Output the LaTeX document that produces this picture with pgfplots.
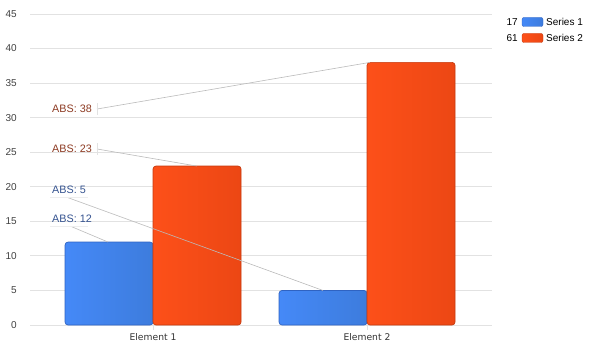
\documentclass[border=0pt]{standalone}
\usepackage{pgfplots}
\pgfplotsset{compat=1.18}
\usepackage{fontspec}
\setmainfont{Liberation Sans}
\newfontfamily\dejavu{DejaVu Sans}
\definecolor{bluel}{HTML}{4589F7}
\definecolor{bluer}{HTML}{3D7CDD}
\definecolor{blueb}{HTML}{2F63C2}
\definecolor{redl}{HTML}{FD5019}
\definecolor{redr}{HTML}{EC4714}
\definecolor{redb}{HTML}{C53A0E}
\definecolor{redtxt}{HTML}{8C3A22}
\definecolor{bluetxt}{HTML}{34528F}
\definecolor{gridc}{HTML}{E2E2E2}
\definecolor{leader}{HTML}{BBBBBB}
\pgfplotsset{
  bluebar/.style={ybar, bar width=88pt, bar shift=-44pt, draw=blueb, line width=0.7pt, left color=bluel, right color=bluer, rounded corners=3pt},
  redbar/.style={ybar, bar width=88pt, bar shift=44pt, draw=redb, line width=0.7pt, left color=redl, right color=redr, rounded corners=3pt},
}
\begin{document}
\begin{tikzpicture}[x=1pt,y=1pt]
\path (0,0) rectangle (592,351);
\begin{axis}[
  at={(30pt,26pt)}, anchor=south west,
  width=462pt, height=311pt, scale only axis,
  xmin=-0.575, xmax=1.584, ymin=0, ymax=45,
  xtick={0,1}, xticklabels={Element 1, Element 2},
  xtick pos=bottom,
  ytick={0,5,...,45},
  ymajorgrids, grid style={gridc, line width=0.8pt},
  axis line style={draw=none},
  tick align=outside, major tick length=5pt,
  xtick style={draw=gridc, line width=0.8pt},
  ytick style={draw=none},
  yticklabel style={font=\fontsize{10}{12}\selectfont, text=black!75, inner sep=0pt, xshift=-8pt},
  xticklabel style={font=\dejavu\fontsize{9.2}{11}\selectfont, text=black!80, inner sep=0pt, yshift=-3pt},
  /pgf/number format/assume math mode=true,
  clip=false,
]
\addplot[bluebar] coordinates {(0,12)};
\addplot[bluebar] coordinates {(1,5)};
\addplot[redbar] coordinates {(0,23)};
\addplot[redbar] coordinates {(1,38)};
% leader lines
\addplot[forget plot, sharp plot, leader, line width=0.6pt] coordinates {(-0.262,31.25) (1.014,38.0)};
\addplot[forget plot, sharp plot, leader, line width=0.6pt] coordinates {(-0.262,25.47) (0.204,23.0)};
\addplot[forget plot, sharp plot, leader, line width=0.6pt] coordinates {(-0.397,18.42) (0.794,5.0)};
\addplot[forget plot, sharp plot, leader, line width=0.6pt] coordinates {(-0.380,14.22) (-0.210,12.0)};
\addplot[forget plot, sharp plot, gridc, line width=0.6pt] coordinates {(-0.262,30.4) (-0.262,32.1)};
\addplot[forget plot, sharp plot, gridc, line width=0.6pt] coordinates {(-0.262,24.6) (-0.262,26.3)};
\addplot[forget plot, sharp plot, gridc!60, line width=0.6pt] coordinates {(-0.481,18.42) (-0.304,18.42)};
\addplot[forget plot, sharp plot, gridc!60, line width=0.6pt] coordinates {(-0.481,14.22) (-0.304,14.22)};
\node[anchor=west, inner sep=0pt, text=redtxt, font=\fontsize{10.8}{12}\selectfont] at (axis cs:-0.472,31.25) {ABS: 38};
\node[anchor=west, inner sep=0pt, text=redtxt, font=\fontsize{10.8}{12}\selectfont] at (axis cs:-0.472,25.47) {ABS: 23};
\node[anchor=west, inner sep=0pt, text=bluetxt, font=\fontsize{10.8}{12}\selectfont] at (axis cs:-0.472,19.5) {ABS: 5};
\node[anchor=west, inner sep=0pt, text=bluetxt, font=\fontsize{10.8}{12}\selectfont] at (axis cs:-0.472,15.3) {ABS: 12};
\end{axis}
% legend
\node[anchor=east, inner sep=0pt, font=\fontsize{10}{12}\selectfont] at (518,329) {17};
\draw[blueb, left color=bluel, right color=bluer, rounded corners=2pt] (522,324.5) rectangle (543,333.5);
\node[anchor=west, inner sep=0pt, font=\fontsize{10}{12}\selectfont] at (546,329) {Series 1};
\node[anchor=east, inner sep=0pt, font=\fontsize{10}{12}\selectfont] at (518,313) {61};
\draw[redb, left color=redl, right color=redr, rounded corners=2pt] (522,308.5) rectangle (543,317.5);
\node[anchor=west, inner sep=0pt, font=\fontsize{10}{12}\selectfont] at (546,313) {Series 2};
\end{tikzpicture}
\end{document}
